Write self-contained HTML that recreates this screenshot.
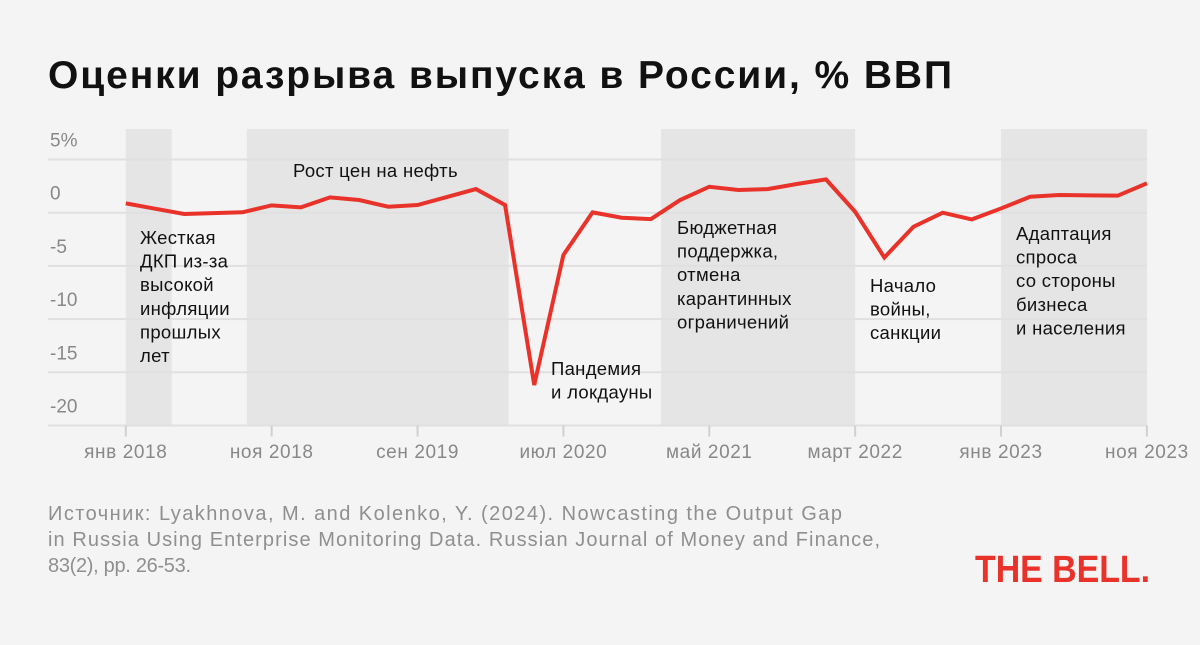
<!DOCTYPE html>
<html><head><meta charset="utf-8"><style>
body{margin:0;width:1200px;height:640px;background:#f4f4f4;overflow:hidden;font-family:"Liberation Sans",sans-serif;}
svg text{font-family:"Liberation Sans",sans-serif;}
</style></head><body>
<svg id="chart" width="1200" height="640">
<text x="48" y="88" font-size="39" font-weight="bold" fill="#111" textLength="904" lengthAdjust="spacing">Оценки разрыва выпуска в России, % ВВП</text>
<g id="bands"></g><g id="grid"></g><g id="xaxis"></g><g id="notes"></g><g id="series"></g>
<g font-size="20" fill="#8f8f8f">
<text x="48" y="520" textLength="794" lengthAdjust="spacing">Источник: Lyakhnova, M. and Kolenko, Y. (2024). Nowcasting the Output Gap</text>
<text x="48" y="546" textLength="832" lengthAdjust="spacing">in Russia Using Enterprise Monitoring Data. Russian Journal of Money and Finance,</text>
<text x="48" y="572" textLength="143" lengthAdjust="spacing">83(2), pp. 26-53.</text>
</g>
<text x="975" y="582" font-size="38" font-weight="bold" fill="#e8322a" textLength="175" lengthAdjust="spacingAndGlyphs">THE BELL.</text>
</svg>
<script>
const months=[0,2,4,6,8,10,12,14,16,18,20,22,24,26,28,30,32,34,36,38,40,42,44,46,48,50,52,54,56,58,60,62,64,66,68,70];
const values=[0.88,0.38,-0.12,-0.04,0.04,0.69,0.5,1.44,1.19,0.56,0.72,1.47,2.22,0.72,-16.2,-3.97,0.03,-0.47,-0.6,1.19,2.44,2.13,2.22,2.7,3.13,0.09,-4.21,-1.32,0.0,-0.63,0.4,1.5,1.66,1.63,1.6,2.76];
const yTicks=[5,0,-5,-10,-15,-20];
const yTickLabels=["5%","0","-5","-10","-15","-20"];
const xTicks=[0,10,20,30,40,50,60,70];
const xTickLabels=["янв 2018","ноя 2018","сен 2019","июл 2020","май 2021","март 2022","янв 2023","ноя 2023"];
const bandStarts=[0,8.3,36.7,60];
const bandEnds=[3.15,26.25,50,70];
const NS="http://www.w3.org/2000/svg";
const X=m=>125.8+m*(1146.9-125.8)/70;
const Y=v=>212.7-v*10.64;
function mk(t,a,p){const e=document.createElementNS(NS,t);for(const k in a)e.setAttribute(k,a[k]);p.appendChild(e);return e;}
const bands=document.getElementById('bands');
bandStarts.forEach((s,i)=>{const r=mk('rect',{x:X(s),y:129,width:X(bandEnds[i])-X(s),height:Y(-20)-129,fill:'#e5e5e5'},bands);

});
const grid=document.getElementById('grid');
yTicks.forEach((v,i)=>{const l=mk('line',{x1:48,x2:1147,y1:Y(v),y2:Y(v),stroke:'#e0e0e0','stroke-width':2},grid);


const t=mk('text',{x:50,y:Y(v)-13,'font-size':19,fill:'#888'},grid);t.textContent=yTickLabels[i];

});
const xa=document.getElementById('xaxis');
xTicks.forEach((m,i)=>{const l=mk('line',{x1:X(m),x2:X(m),y1:Y(-20),y2:Y(-20)+11,stroke:'#d0d0d0','stroke-width':2},xa);


const t=mk('text',{x:X(m),y:458,'font-size':19,fill:'#888','text-anchor':'middle','letter-spacing':'0.6'},xa);t.textContent=xTickLabels[i];

});
const notes=document.getElementById('notes');
[[140,244,["Жесткая","ДКП из-за","высокой","инфляции","прошлых","лет"]],[293,177,["Рост цен на нефть"]],[551,375,["Пандемия","и локдауны"]],[677,234,["Бюджетная","поддержка,","отмена","карантинных","ограничений"]],[870,292,["Начало","войны,","санкции"]],[1016,240,["Адаптация","спроса","со стороны","бизнеса","и населения"]]].forEach(n=>{
const t=mk('text',{x:n[0],y:n[1],'font-size':18.5,fill:'#111','letter-spacing':'0.3'},notes);


n[2].forEach((s,j)=>{const ts=mk('tspan',{x:n[0],dy:j?23.6:0},t);ts.textContent=s;});});
const line=mk('polyline',{points:months.map((m,i)=>X(m)+','+Y(values[i])).join(' '),fill:'none',stroke:'#e8322a','stroke-width':4,'stroke-linejoin':'miter'},document.getElementById('series'));


</script>
</body></html>
